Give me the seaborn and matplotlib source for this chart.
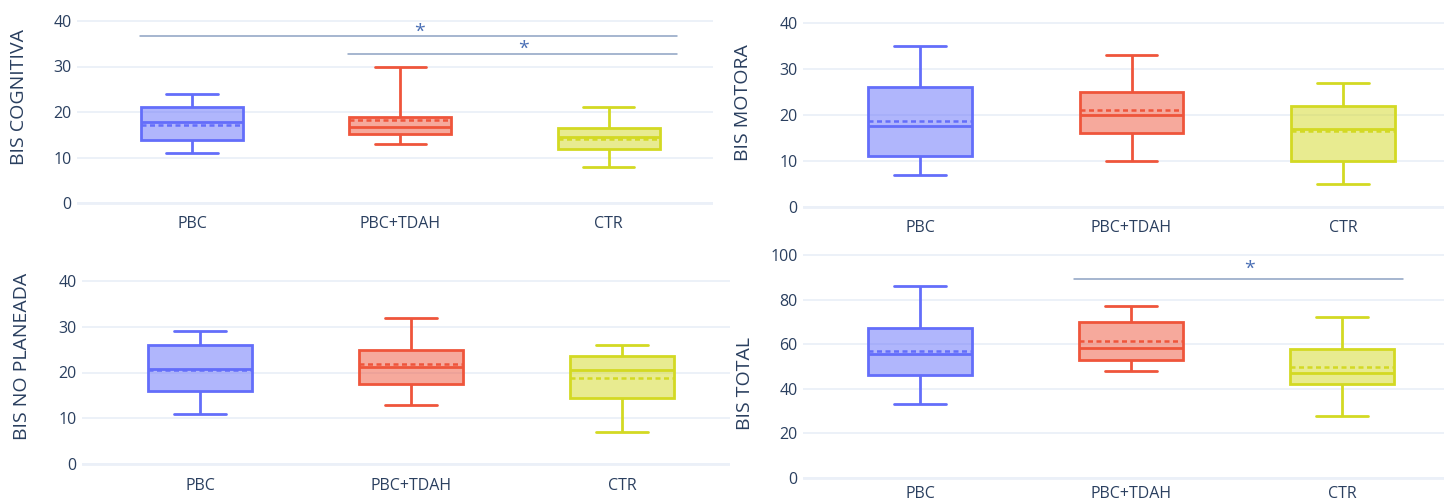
import matplotlib
matplotlib.use("Agg")
import matplotlib.pyplot as plt
from matplotlib.colors import to_rgba
import seaborn as sns

# Groups and their colours
groups = ["PBC", "PBC+TDAH", "CTR"]
group_colors = ["#636EFA", "#EF553B", "#D3D923"]

# BIS COGNITIVA: whisker low, Q1, median, Q3, whisker high, mean
cog_low = [11, 13, 8]
cog_q1 = [13.9, 15.1, 11.8]
cog_med = [17.9, 16.6, 14.4]
cog_q3 = [21.0, 19.0, 16.4]
cog_high = [24, 30, 21]
cog_mean = [17.2, 18.3, 14.1]

# BIS MOTORA
mot_low = [7, 10, 5]
mot_q1 = [11.0, 16.0, 10.0]
mot_med = [17.6, 20.0, 17.0]
mot_q3 = [26.0, 25.0, 22.0]
mot_high = [35, 33, 27]
mot_mean = [18.7, 21.1, 16.5]

# BIS NO PLANEADA
npl_low = [11, 13, 7]
npl_q1 = [15.9, 17.4, 14.5]
npl_med = [20.8, 21.2, 20.5]
npl_q3 = [26.0, 25.0, 23.5]
npl_high = [29, 32, 26]
npl_mean = [20.5, 21.9, 18.9]

# BIS TOTAL
tot_low = [33, 48, 28]
tot_q1 = [46.0, 53.0, 42.0]
tot_med = [55.4, 58.4, 47.3]
tot_q3 = [67.2, 70.0, 57.8]
tot_high = [86, 77, 72]
tot_mean = [56.9, 61.4, 49.6]

W, H = 1444, 501
TEXT = "#2a3f5f"
GRID = "#EBF0F8"
SIG_LINE = "#8DA2C2"
SIG_STAR = "#4A6FB5"

sns.set_theme(style="white")
plt.rcParams["font.family"] = ["Open Sans", "DejaVu Sans"]

fig = plt.figure(figsize=(W / 100, H / 100), dpi=100)
fig.patch.set_facecolor("white")


def make_axes(left, right, top, bottom, zero_px, px_per_unit, x0_px, step_px):
    ax = fig.add_axes([left / W, 1 - bottom / H, (right - left) / W, (bottom - top) / H])
    ax.set_ylim((zero_px - bottom) / px_per_unit, (zero_px - top) / px_per_unit)
    return ax, ((left - x0_px) / step_px, (right - x0_px) / step_px)


def draw_panel(ax, xlim, low, q1, med, q3, high, mean, yticks, title, title_xy, label_pad):
    for i, (g, c) in enumerate(zip(groups, group_colors)):
        five = [low[i], q1[i], med[i], q3[i], high[i]]
        n_prev = len(ax.patches)
        sns.boxplot(x=[g] * 5, y=five, order=groups, color=c, linecolor=c,
                    linewidth=2, width=0.49, whis=(0, 100), saturation=1,
                    fill=True, ax=ax, zorder=3)
        for p in ax.patches[n_prev:]:
            p.set_facecolor(to_rgba(c, 0.5))
            p.set_edgecolor(c)
        ax.hlines(mean[i], i - 0.245, i + 0.245, colors=c, linestyles=(0, (2.0, 1.4)),
                  linewidth=1.8, zorder=4)
    ax.set_xlim(*xlim)
    ax.set_yticks(yticks)
    ax.set_yticklabels([str(t) for t in yticks])
    ax.set_xlabel("")
    ax.set_ylabel("")
    ax.grid(axis="y", color=GRID, linewidth=1.3, zorder=0)
    ax.grid(axis="x", visible=False)
    ax.axhline(0, color=GRID, linewidth=2, zorder=0)
    for s in ax.spines.values():
        s.set_visible(False)
    ax.tick_params(axis="both", length=0, labelsize=11.5, colors=TEXT)
    ax.tick_params(axis="x", pad=label_pad)
    ax.tick_params(axis="y", pad=4)
    ax.set_facecolor("none")
    fig.text(title_xy[0] / W, 1 - title_xy[1] / H, title, rotation=90,
             ha="center", va="center", fontsize=14, color=TEXT)


def sig_bar(ax, x0, x1, y, star_x, star_y):
    ax.plot([x0, x1], [y, y], color=SIG_LINE, linewidth=1.1, zorder=2)
    ax.text(star_x, star_y, "*", color=SIG_STAR, fontsize=14, ha="center", va="center")


# top left
ax1, xl1 = make_axes(77, 713, 5, 210, 203, 4.55, 192, 208.3)
draw_panel(ax1, xl1, cog_low, cog_q1, cog_med, cog_q3, cog_high, cog_mean,
           [0, 10, 20, 30, 40], "BIS COGNITIVA", (19, 97), 4)
sig_bar(ax1, -0.25, 2.33, 36.8, 1.09, 37.6)
sig_bar(ax1, 0.75, 2.33, 32.8, 1.59, 33.9)

# top right
ax2, xl2 = make_axes(803, 1450, 5, 214, 207, 4.6, 920, 211.5)
draw_panel(ax2, xl2, mot_low, mot_q1, mot_med, mot_q3, mot_high, mot_mean,
           [0, 10, 20, 30, 40], "BIS MOTORA", (743, 103), 4)

# bottom left
ax3, xl3 = make_axes(82, 730, 262, 471, 464, 4.575, 200, 211)
draw_panel(ax3, xl3, npl_low, npl_q1, npl_med, npl_q3, npl_high, npl_mean,
           [0, 10, 20, 30, 40], "BIS NO PLANEADA", (22, 356), 5)

# bottom right
ax4, xl4 = make_axes(803, 1450, 245, 485, 478, 2.23, 920, 211)
draw_panel(ax4, xl4, tot_low, tot_q1, tot_med, tot_q3, tot_high, tot_mean,
           [0, 20, 40, 60, 80, 100], "BIS TOTAL", (745, 383), 0.5)
sig_bar(ax4, 0.73, 2.29, 89.4, 1.56, 94.0)

fig.savefig("out.png", dpi=100, facecolor="white")
